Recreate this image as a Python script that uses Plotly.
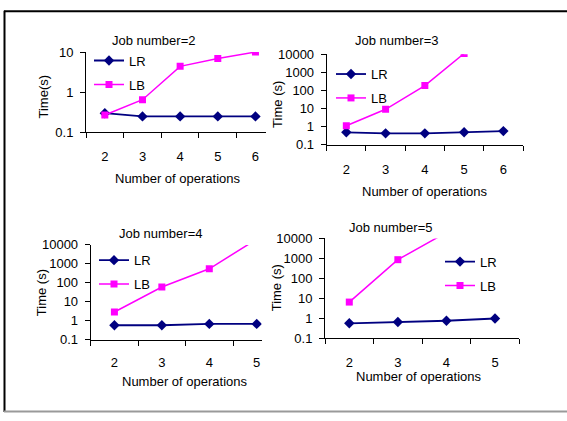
import plotly.graph_objects as go

# ---------------- data ----------------
ops_j2 = [2, 3, 4, 5, 6]
lr_j2 = [0.30, 0.25, 0.25, 0.25, 0.25]
lb_j2 = [0.27, 0.65, 4.4, 6.9, 10]

ops_j3 = [2, 3, 4, 5, 6]
lr_j3 = [0.48, 0.42, 0.42, 0.48, 0.56]
lb_j3 = [1.1, 9, 185, 11000, None]

ops_j4 = [2, 3, 4, 5]
lr_j4 = [0.58, 0.58, 0.68, 0.68]
lb_j4 = [2.9, 60, 550, 20000]

ops_j5 = [2, 3, 4, 5]
lr_j5 = [0.55, 0.64, 0.74, 0.96]
lb_j5 = [6.4, 860, 20000, None]

titles = ["Job number=2", "Job number=3", "Job number=4", "Job number=5"]
ytitles = ["Time(s)", "Time (s)", "Time (s)", "Time (s)"]
xtitle = "Number of operations"
yticks_small = [0.1, 1, 10]
yticks_large = [0.1, 1, 10, 100, 1000, 10000]

W, H = 567, 421
FONT = "Liberation Sans, Arial, sans-serif"
NAVY = "#000080"
MAGENTA = "#FF00FF"


def px(x):
    return x / W


def py(y):
    return 1 - y / H


panels = [
    dict(ops=ops_j2, lr=lr_j2, lb=lb_j2, yt=yticks_small,
         xd=(86, 266), yd=(46.7, 130), xr=(1.5, 6.28),
         leg=(89, 40), title=(153, 35), xt=(178, 178), ytp=(43.5, 93.3), xstand=12),
    dict(ops=ops_j3, lr=lr_j3, lb=lb_j3, yt=yticks_large,
         xd=(326.7, 523), yd=(49, 142.7), xr=(1.5, 6.5),
         leg=(331, 54), title=(396.7, 35), xt=(425, 191.7), ytp=(278, 101.5), xstand=13),
    dict(ops=ops_j4, lr=lr_j4, lb=lb_j4, yt=yticks_large,
         xd=(90.7, 261.7), yd=(246.7, 345), xr=(1.5, 5.105),
         leg=(94, 247), title=(160, 235), xt=(185, 388.3), ytp=(41.7, 296), xstand=11),
    dict(ops=ops_j5, lr=lr_j5, lb=lb_j5, yt=yticks_large,
         xd=(325, 519.3), yd=(240, 343.3), xr=(1.5, 5.5),
         leg=(440, 248.5), title=(390, 229), xt=(419.3, 383.3), ytp=(276, 291.7), xstand=12),
]

fig = go.Figure()
annotations = []

for i, p in enumerate(panels):
    n = i + 1
    xa = "x" if n == 1 else f"x{n}"
    ya = "y" if n == 1 else f"y{n}"
    lg = "legend" if n == 1 else f"legend{n}"
    fig.add_trace(go.Scatter(
        x=p["ops"], y=p["lr"], name="LR", mode="lines+markers",
        line=dict(color=NAVY, width=1.8),
        marker=dict(symbol="diamond", size=8, color=NAVY),
        xaxis=xa, yaxis=ya, legend=lg, legendgroup=f"lr{n}"))
    fig.add_trace(go.Scatter(
        x=p["ops"], y=p["lb"], name="LB", mode="lines+markers",
        line=dict(color=MAGENTA, width=1.5),
        marker=dict(symbol="square", size=7, color=MAGENTA),
        xaxis=xa, yaxis=ya, legend=lg, legendgroup=f"lb{n}", connectgaps=False))

    axis_x = dict(
        domain=[px(p["xd"][0]), px(p["xd"][1])],
        range=list(p["xr"]),
        anchor=ya,
        tickvals=p["ops"],
        ticktext=[str(v) for v in p["ops"]],
        ticks="",
        ticklabelstandoff=p["xstand"],
        minor=dict(tickvals=[v - 0.5 for v in p["ops"]] + [p["ops"][-1] + 0.5],
                   ticks="outside", ticklen=5, tickcolor="black", tickwidth=1,
                   showgrid=False),
        showline=True, linecolor="black", linewidth=1,
        showgrid=False, zeroline=False,
        tickfont=dict(family=FONT, size=13, color="black"),
        fixedrange=True,
    )
    yt = p["yt"]
    axis_y = dict(
        domain=[py(p["yd"][1]), py(p["yd"][0])],
        type="log",
        range=[-1, len(yt) - 2],
        anchor=xa,
        tickvals=yt,
        ticktext=[("%g" % v) for v in yt],
        ticks="outside", ticklen=5, tickcolor="black", tickwidth=1,
        ticklabelstandoff=4,
        showline=True, linecolor="black", linewidth=1,
        showgrid=False, zeroline=False,
        tickfont=dict(family=FONT, size=13, color="black"),
        fixedrange=True,
    )
    fig.update_layout(**{("xaxis" if n == 1 else f"xaxis{n}"): axis_x,
                         ("yaxis" if n == 1 else f"yaxis{n}"): axis_y})
    fig.update_layout(**{lg: dict(
        x=px(p["leg"][0]), y=py(p["leg"][1]), xanchor="left", yanchor="top",
        bgcolor="rgba(0,0,0,0)", borderwidth=0,
        font=dict(family=FONT, size=13, color="black"),
        tracegroupgap=4, traceorder="grouped",
    )})

    annotations.append(dict(text=titles[i], x=px(p["title"][0]), y=py(p["title"][1]),
                            xref="paper", yref="paper", showarrow=False,
                            xanchor="center", yanchor="middle",
                            font=dict(family=FONT, size=13, color="black")))
    annotations.append(dict(text=xtitle, x=px(p["xt"][0]), y=py(p["xt"][1]),
                            xref="paper", yref="paper", showarrow=False,
                            xanchor="center", yanchor="middle",
                            font=dict(family=FONT, size=13, color="black")))
    annotations.append(dict(text=ytitles[i], x=px(p["ytp"][0]), y=py(p["ytp"][1]),
                            xref="paper", yref="paper", showarrow=False, textangle=-90,
                            xanchor="center", yanchor="middle",
                            font=dict(family=FONT, size=13, color="black")))

shapes = [
    dict(type="line", xref="paper", yref="paper", x0=px(4), x1=1, y0=py(4.5), y1=py(4.5),
         line=dict(color="black", width=2)),
    dict(type="line", xref="paper", yref="paper", x0=px(4.5), x1=px(4.5), y0=py(4), y1=py(420),
         line=dict(color="black", width=2)),
    dict(type="line", xref="paper", yref="paper", x0=px(4), x1=1, y0=py(419.5), y1=py(419.5),
         line=dict(color="#9a9a9a", width=2)),
]

fig.update_layout(
    width=W, height=H,
    margin=dict(l=0, r=0, t=0, b=0),
    paper_bgcolor="white", plot_bgcolor="white",
    showlegend=True,
    annotations=annotations,
    shapes=shapes,
    font=dict(family=FONT, size=13, color="black"),
)

POST = (
    "document.documentElement.style.cssText='margin:0;padding:0;overflow:hidden;height:421px;';"
    "document.body.style.cssText='margin:0;padding:0;overflow:hidden;height:421px;';"
    "var gd=document.getElementById('{plot_id}');"
    "if(gd&&gd.parentElement){gd.parentElement.style.cssText='margin:0;padding:0;height:421px;overflow:hidden;';}"
)

fig.write_html("out.html", config={"displayModeBar": False}, post_script=POST)
